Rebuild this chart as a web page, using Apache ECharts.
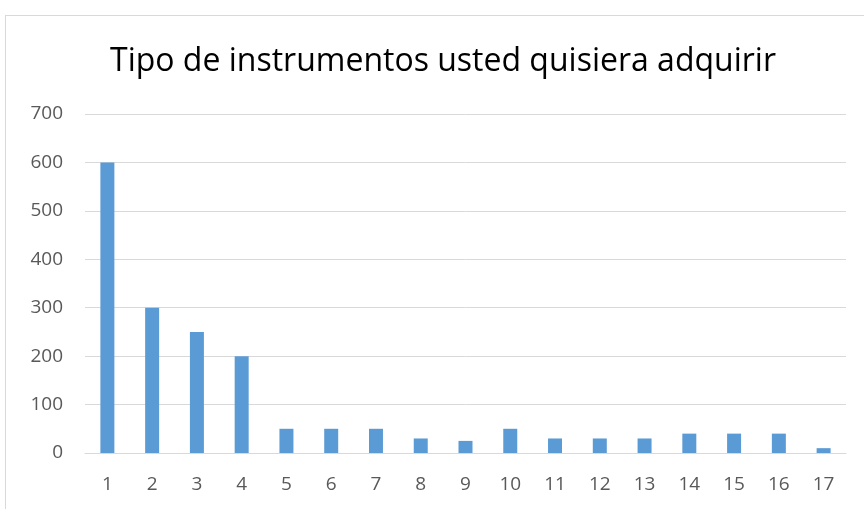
<!DOCTYPE html>
<html>
<head>
<meta charset="utf-8">
<script src="https://cdn.jsdelivr.net/npm/echarts@6/dist/echarts.min.js"></script>
<style>
  html, body { margin: 0; padding: 0; background: #fff; }
  #frame {
    position: absolute; left: 5px; top: 15px; width: 870px; height: 500px;
    border-left: 1px solid #d9d9d9; border-top: 1px solid #d9d9d9;
  }
  #chart { position: absolute; left: 0; top: 0; width: 864px; height: 509px; }
</style>
</head>
<body>
<div id="frame"></div>
<div id="chart"></div>
<script>
// datos del gráfico
const categories = ['1', '2', '3', '4', '5', '6', '7', '8', '9', '10', '11', '12', '13', '14', '15', '16', '17']
const values = [600, 300, 250, 200, 50, 50, 50, 30, 25, 50, 30, 30, 30, 40, 40, 40, 10]

const myChart = echarts.init(document.getElementById('chart'))
const options = {
  backgroundColor: 'transparent',
  animation: false,
  title: {
    text: 'Tipo de instrumentos usted quisiera adquirir',
    left: 438,
    textAlign: 'center',
    top: 41,
    textStyle: {
      color: '#000',
      fontSize: 32,
      fontWeight: 'normal',
      fontFamily: 'Open Sans'
    }
  },
  grid: {
    left: 85,
    right: 18,
    top: 114,
    bottom: 56
  },
  xAxis: {
    type: 'category',
    data: categories,
    axisTick: { show: false },
    axisLine: { lineStyle: { color: '#d9d9d9', width: 1 } },
    axisLabel: {
      color: '#595959',
      fontSize: 19,
      margin: 22,
      fontFamily: 'Open Sans'
    }
  },
  yAxis: {
    type: 'value',
    min: 0,
    max: 700,
    interval: 100,
    axisLine: { show: false },
    axisTick: { show: false },
    splitLine: { lineStyle: { color: '#d9d9d9', width: 1 } },
    axisLabel: {
      color: '#595959',
      fontSize: 19,
      margin: 22,
      fontFamily: 'Open Sans'
    }
  },
  series: [{
    type: 'bar',
    data: values,
    barWidth: 14,
    itemStyle: { color: '#5b9bd5' }
  }]
}
myChart.setOption(options)
</script>
</body>
</html>
